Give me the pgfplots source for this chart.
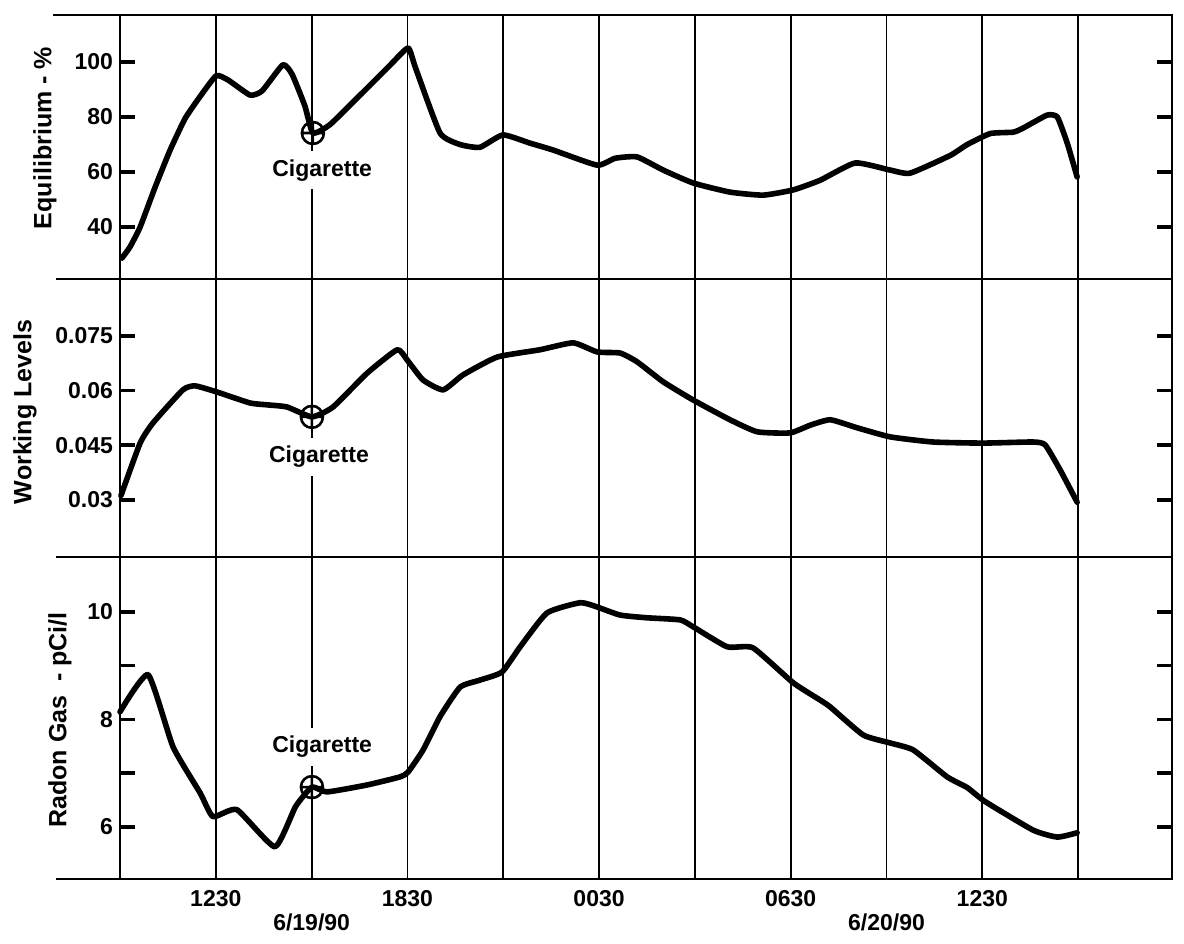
\documentclass[border=0pt]{standalone}
\usepackage{fontspec}
\setmainfont{Liberation Sans}
\usepackage{pgfplots}
\pgfplotsset{compat=1.18}

% x values are hours counted from midnight of 6/19/90
\pgfplotsset{
  panel/.style={
    scale only axis,
    width=526pt,
    xmin=9.5, xmax=42.44,
    xtick={12.5,15.5,...,39.5},
    xticklabels={},
    xmajorgrids,
    grid style={black, line width=0.9pt},
    xtick style={draw=none},
    ytick pos=both,
    yticklabel pos=left,
    tick align=inside,
    major tick length=7.5pt,
    ytick style={black, line width=1.8pt},
    axis line style={black, line width=1.4pt},
    ticklabel style={font=\fontsize{11.5}{13}\selectfont\bfseries},
    /pgf/number format/assume math mode=true,
    scaled y ticks=false,
    clip=false,
  },
  curve/.style={black, line width=2.8pt, smooth, tension=0.3, line join=round, line cap=round},
  cig/.style={only marks, mark=oplus, mark size=5.5pt, mark options={black, line width=1.3pt}},
}
\tikzset{
  cignote/.style={fill=white, inner xsep=2pt, inner ysep=4pt, font=\fontsize{11.5}{13}\selectfont\bfseries},
  panellabel/.style={rotate=90, font=\fontsize{12.5}{14}\selectfont\bfseries},
  stub/.style={black, line width=1.4pt},
}

\begin{document}
\begin{tikzpicture}
\useasboundingbox (0,0) rectangle (592pt,-471.5pt);

% ---------- Equilibrium ----------
\begin{axis}[panel, at={(60pt,-139.5pt)}, anchor=south west, height=132pt,
  ymin=21.1, ymax=117.1, ytick={40,60,80,100}, yticklabels={40,60,80,100}]
\addplot[curve] coordinates {
 (9.56,28.7) (9.81,32.7) (10.13,40) (10.60,54.5) (11.07,68) (11.54,79.5)
 (12.01,87.5) (12.51,95) (12.88,93.5) (13.57,88) (13.95,89.5) (14.60,99)
 (14.89,95.5) (15.29,84) (15.54,74.2) (16.08,77.3) (17.02,88) (17.96,98.9)
 (18.52,105.1) (18.75,98) (19.52,74.2)
 (20.15,70) (20.77,69) (21.49,73.5) (22.34,70.5) (23.06,68) (24.44,62.5)
 (25.00,65) (25.69,65.5) (26.51,60.7) (27.45,56) (28.60,52.7) (29.64,51.6)
 (30.58,53.5) (31.42,57) (32.52,63.3) (33.62,60.7) (34.24,59.6) (35.49,66)
 (36.03,70) (36.75,74) (37.47,74.5) (37.78,76) (38.53,80.7) (38.85,80)
 (39.16,70.5) (39.47,58.2)
};
\addplot[cig] coordinates {(15.54,74.2)};
\node[cignote] at (axis cs:15.83,60.7) {Cigarette};
\node[panellabel] at (rel axis cs:-0.0713,0.534) {Equilibrium - \%};
\draw[stub] (rel axis cs:-0.064,1) -- (rel axis cs:0,1);
\draw[stub] (rel axis cs:-0.061,0) -- (rel axis cs:0,0);
\end{axis}

% ---------- Working Levels ----------
\begin{axis}[panel, at={(60pt,-278.5pt)}, anchor=south west, height=139pt,
  ymin=0.01436, ymax=0.0906, ytick={0.03,0.045,0.06,0.075},
  yticklabels={0.03,0.045,0.06,0.075}]
\addplot[curve] coordinates {
 (9.53,0.0312) (10.13,0.0456) (10.53,0.0511) (11.47,0.0602) (11.85,0.0613)
 (12.54,0.0596) (13.57,0.0566) (14.10,0.0561) (14.73,0.0555)
 (15.51,0.0528) (16.17,0.0555) (17.24,0.0648) (18.18,0.0712) (18.49,0.0684)
 (18.99,0.0629) (19.62,0.0602) (20.24,0.0643) (21.31,0.0692) (22.65,0.0712)
 (23.69,0.0731) (24.44,0.0706) (25.16,0.0703) (25.69,0.0679) (26.51,0.0624)
 (27.45,0.0574) (28.60,0.0520) (29.45,0.0487) (30.48,0.0484) (31.11,0.0505)
 (31.74,0.0520) (32.58,0.0498) (33.62,0.0473) (34.96,0.0459) (36.53,0.0456)
 (38.09,0.0459) (38.47,0.0451) (38.94,0.0382) (39.47,0.0294)
};
\addplot[cig] coordinates {(15.51,0.0528)};
\node[cignote] at (axis cs:15.73,0.0418) {Cigarette};
\node[panellabel] at (rel axis cs:-0.0903,0.522) {Working Levels};
\draw[stub] (rel axis cs:-0.061,0) -- (rel axis cs:0,0);
\end{axis}

% ---------- Radon Gas ----------
\begin{axis}[panel, at={(60pt,-439.5pt)}, anchor=south west, height=161pt,
  ymin=5.03, ymax=11.02, ytick={6,7,8,9,10}, yticklabels={6,,8,,10},
  xticklabels={1230,,1830,,0030,,0630,,1230,},
  xticklabel style={yshift=-2pt}]
\addplot[curve] coordinates {
 (9.50,8.14) (10.38,8.83) (11.16,7.49) (12.01,6.63) (12.41,6.19) (13.16,6.32)
 (14.35,5.63) (15.00,6.38) (15.51,6.74) (15.98,6.65) (17.24,6.78) (18.27,6.93)
 (18.52,7.02) (18.99,7.43) (19.52,8.05) (20.15,8.6) (20.77,8.73) (21.46,8.88)
 (22.03,9.35) (22.87,9.98) (23.91,10.17) (24.44,10.09) (25.16,9.94) (25.99,9.89)
 (27.04,9.85) (27.45,9.72) (28.51,9.35) (29.32,9.33) (30.58,8.68) (31.42,8.36)
 (31.74,8.23) (32.77,7.71) (33.62,7.56) (34.34,7.43) (35.40,6.93) (36.03,6.73)
 (36.59,6.47) (38.09,5.94) (38.85,5.81) (39.47,5.89)
};
\addplot[cig] coordinates {(15.51,6.74)};
\node[cignote] at (axis cs:15.83,7.49) {Cigarette};
\node[panellabel] at (rel axis cs:-0.057,0.494) {Radon Gas \ - pCi/l};
\draw[stub] (rel axis cs:-0.061,0) -- (rel axis cs:0,0);
\node[font=\fontsize{11.5}{13}\selectfont\bfseries] at (axis cs:15.5,5.03) [yshift=-21.5pt] {6/19/90};
\node[font=\fontsize{11.5}{13}\selectfont\bfseries] at (axis cs:33.5,5.03) [yshift=-21.5pt] {6/20/90};
\end{axis}
\end{tikzpicture}
\end{document}
